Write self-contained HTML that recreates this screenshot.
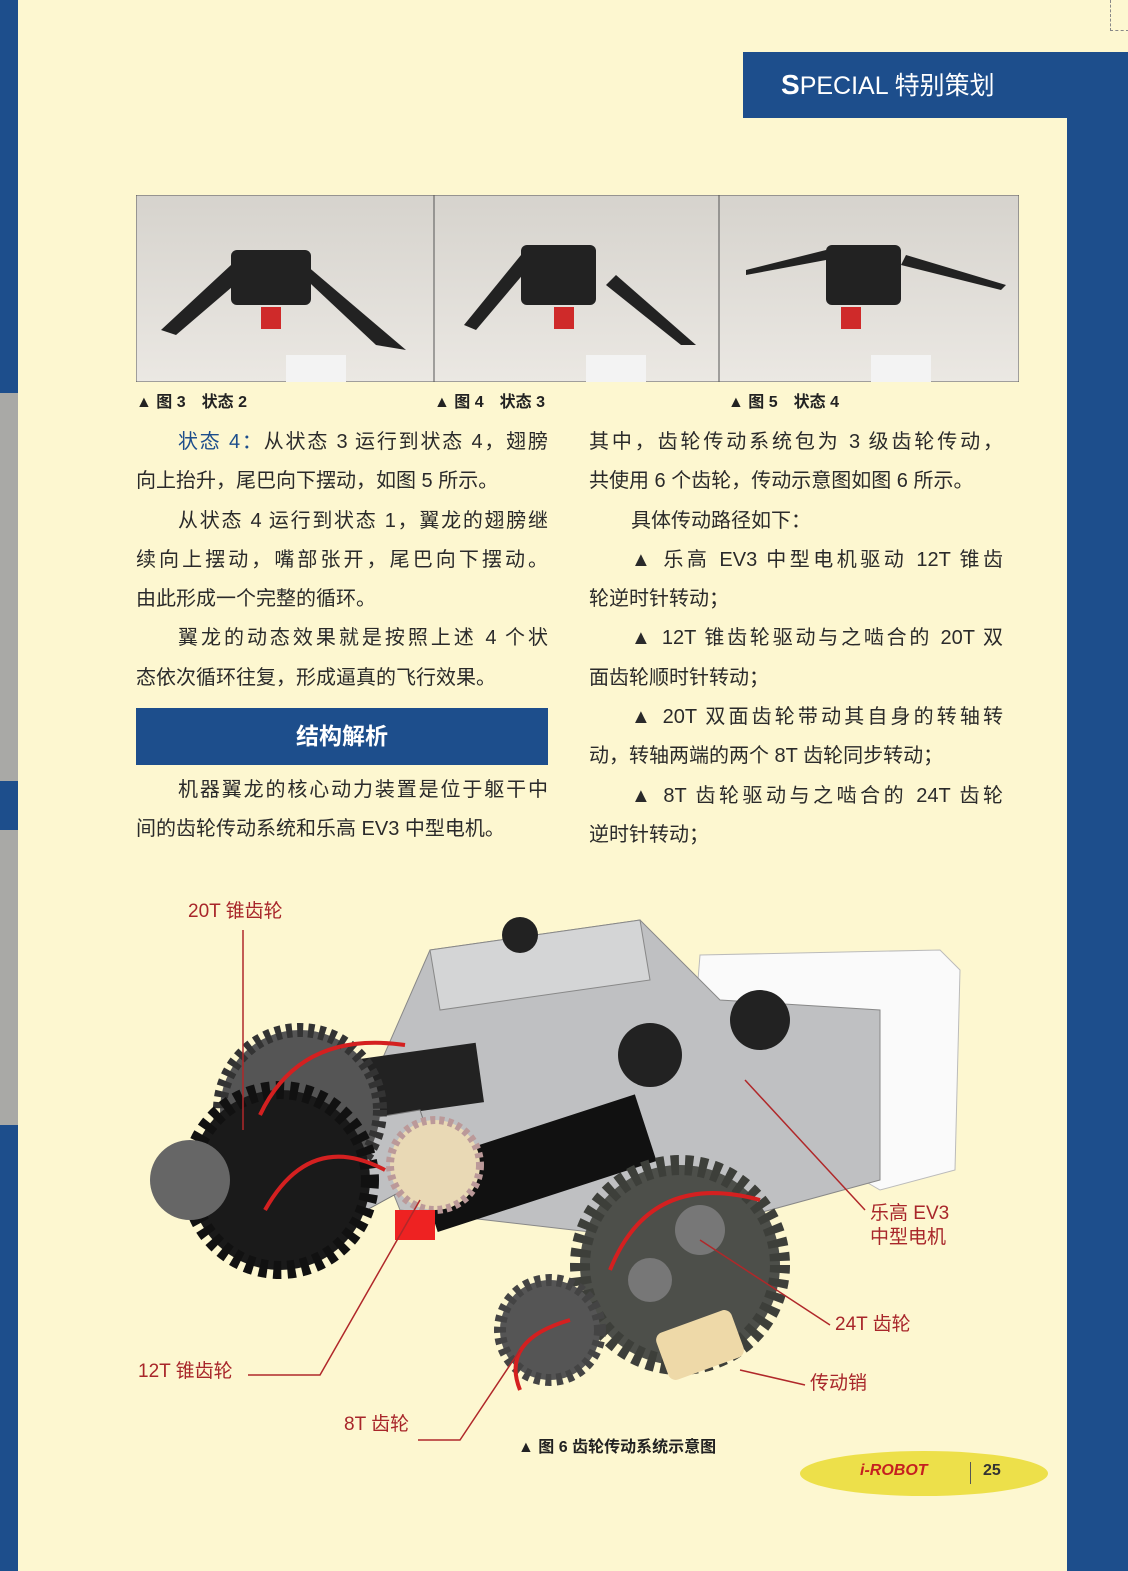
<!DOCTYPE html>
<html><head><meta charset="utf-8"><style>
body{margin:0;width:1128px;height:1571px;background:#fdf7d0;position:relative;overflow:hidden;font-family:"Liberation Sans","Noto Sans CJK SC",sans-serif;color:#2a2a2a}
.a{position:absolute}
.t{font-size:20px;line-height:39.3px}
.t div{white-space:nowrap;text-align:justify;text-align-last:justify}
.t div.e{text-align-last:left}
.t div.i{padding-left:42px}
.cap{font-size:16px;font-weight:bold;color:#222}
.lab{font-size:19px;color:#a8262a;position:absolute;line-height:24px}
</style></head><body>
<div class="a" style="left:0;top:0;width:18px;height:1571px;background:#1d4e8c"></div>
<div class="a" style="left:0;top:393px;width:18px;height:388px;background:#a9a9a6"></div>
<div class="a" style="left:0;top:830px;width:18px;height:295px;background:#a9a9a6"></div>
<div class="a" style="left:1067px;top:52px;width:61px;height:1519px;background:#1d4e8c"></div>
<div class="a" style="left:743px;top:52px;width:324px;height:66px;background:#1d4e8c;color:#fff;font-size:25px;line-height:66px;text-indent:38px"><b style="font-size:28px">S</b>PECIAL 特别策划</div>
<div class="a" style="left:1110px;top:0;width:18px;height:30px;border-left:1px dashed #888;border-bottom:1px dashed #888"></div>

<svg class="a" style="left:136px;top:195px" width="883" height="187">
<defs><linearGradient id="g" x1="0" y1="0" x2="0" y2="1"><stop offset="0" stop-color="#d6d3cd"/><stop offset="1" stop-color="#ebe8e3"/></linearGradient></defs>
<rect width="883" height="187" fill="url(#g)" stroke="#555"/>
<line x1="298" y1="0" x2="298" y2="187" stroke="#555"/><line x1="583" y1="0" x2="583" y2="187" stroke="#555"/>
<g fill="#222">
<polygon points="25,135 95,70 110,80 40,140"/><polygon points="160,75 240,150 270,155 170,70"/><rect x="95" y="55" width="80" height="55" rx="6"/>
<polygon points="328,130 385,60 395,70 340,135"/><polygon points="480,80 560,150 545,150 470,90"/><rect x="385" y="50" width="75" height="60" rx="6"/>
<polygon points="610,75 690,55 690,65 610,80"/><polygon points="770,60 870,90 865,95 765,70"/><rect x="690" y="50" width="75" height="60" rx="6"/>
</g>
<g fill="#cf2a2a"><rect x="125" y="112" width="20" height="22"/><rect x="418" y="112" width="20" height="22"/><rect x="705" y="112" width="20" height="22"/></g>
<g fill="#f3f3f3"><rect x="150" y="160" width="60" height="27"/><rect x="450" y="160" width="60" height="27"/><rect x="735" y="160" width="60" height="27"/></g>
</svg>
<div class="a cap" style="left:136px;top:388px">▲ 图 3　状态 2</div>
<div class="a cap" style="left:434px;top:388px">▲ 图 4　状态 3</div>
<div class="a cap" style="left:728px;top:388px">▲ 图 5　状态 4</div>

<div class="a t" style="left:136px;top:423px;width:412px">
<div class="i"><span style="color:#1d4e8c">状态 4：</span>从状态 3 运行到状态 4，翅膀</div>
<div class="e">向上抬升，尾巴向下摆动，如图 5 所示。</div>
<div class="i">从状态 4 运行到状态 1，翼龙的翅膀继</div>
<div>续向上摆动，嘴部张开，尾巴向下摆动。</div>
<div class="e">由此形成一个完整的循环。</div>
<div class="i">翼龙的动态效果就是按照上述 4 个状</div>
<div class="e">态依次循环往复，形成逼真的飞行效果。</div>
</div>
<div class="a" style="left:136px;top:708px;width:412px;height:57px;background:#1d4e8c;color:#fff;font-size:23px;font-weight:bold;line-height:57px;text-align:center">结构解析</div>
<div class="a t" style="left:136px;top:771px;width:412px">
<div class="i">机器翼龙的核心动力装置是位于躯干中</div>
<div class="e">间的齿轮传动系统和乐高 EV3 中型电机。</div>
</div>

<div class="a t" style="left:589px;top:423px;width:414px">
<div>其中，齿轮传动系统包为 3 级齿轮传动，</div>
<div class="e">共使用 6 个齿轮，传动示意图如图 6 所示。</div>
<div class="i e">具体传动路径如下：</div>
<div class="i">▲ 乐高 EV3 中型电机驱动 12T 锥齿</div>
<div class="e">轮逆时针转动；</div>
<div class="i">▲ 12T 锥齿轮驱动与之啮合的 20T 双</div>
<div class="e">面齿轮顺时针转动；</div>
<div class="i">▲ 20T 双面齿轮带动其自身的转轴转</div>
<div class="e">动，转轴两端的两个 8T 齿轮同步转动；</div>
<div class="i">▲ 8T 齿轮驱动与之啮合的 24T 齿轮</div>
<div class="e">逆时针转动；</div>
</div>

<svg class="a" style="left:0;top:880px" width="1128" height="580">
<polygon points="700,75 940,70 960,90 955,290 880,310 690,200" fill="#fafafa" stroke="#bbb"/>
<polygon points="430,70 640,40 720,120 880,130 880,300 660,360 400,330 360,230" fill="#bfc0c2" stroke="#888"/>
<polygon points="430,70 640,40 650,100 440,130" fill="#d4d5d6" stroke="#888"/>
<rect x="300" y="175" width="180" height="60" fill="#222" transform="rotate(-8 390 200)"/>
<rect x="420" y="250" width="230" height="70" fill="#111" transform="rotate(-18 530 280)"/>
<polygon points="300,250 420,230 440,290 330,350" fill="#bfc0c2" stroke="#777"/>
<circle cx="300" cy="230" r="80" fill="#555" stroke="#333" stroke-width="14" stroke-dasharray="6 5"/>
<circle cx="280" cy="300" r="90" fill="#1a1a1a" stroke="#111" stroke-width="18" stroke-dasharray="8 6"/>
<circle cx="190" cy="300" r="40" fill="#666"/>
<circle cx="435" cy="285" r="45" fill="#e9d9b5" stroke="#b99" stroke-width="8" stroke-dasharray="5 4"/>
<rect x="395" y="330" width="40" height="30" fill="#e22"/>
<circle cx="680" cy="385" r="100" fill="#4d4f4a" stroke="#3d3f3a" stroke-width="20" stroke-dasharray="8 6"/>
<circle cx="700" cy="350" r="25" fill="#777"/><circle cx="650" cy="400" r="22" fill="#777"/>
<circle cx="550" cy="450" r="50" fill="#555" stroke="#444" stroke-width="12" stroke-dasharray="6 5"/>
<rect x="660" y="440" width="80" height="50" rx="8" fill="#eed9a8" transform="rotate(-20 700 465)"/>
<circle cx="520" cy="55" r="18" fill="#222"/><circle cx="760" cy="140" r="30" fill="#222"/><circle cx="650" cy="175" r="32" fill="#222"/>
<g fill="none" stroke="#d42020" stroke-width="4">
<path d="M260,235 Q300,150 405,165"/><path d="M265,330 Q310,250 385,290"/><path d="M610,390 Q650,290 760,320"/><path d="M520,510 Q500,460 570,440"/>
</g>
<g fill="none" stroke="#b0282a" stroke-width="1.5">
<polyline points="243,50 243,250"/><polyline points="248,495 320,495 420,320"/><polyline points="418,560 460,560 520,470"/>
<polyline points="745,200 865,330"/><polyline points="700,360 830,445"/><polyline points="740,490 805,505"/>
</g>
</svg>
<div class="lab" style="left:188px;top:900px">20T 锥齿轮</div>
<div class="lab" style="left:138px;top:1360px">12T 锥齿轮</div>
<div class="lab" style="left:344px;top:1413px">8T 齿轮</div>
<div class="lab" style="left:870px;top:1202px">乐高 EV3<br>中型电机</div>
<div class="lab" style="left:835px;top:1313px">24T 齿轮</div>
<div class="lab" style="left:810px;top:1372px">传动销</div>
<div class="a cap" style="left:518px;top:1433px">▲ 图 6  齿轮传动系统示意图</div>
<div class="a" style="left:800px;top:1451px;width:248px;height:45px;border-radius:50%;background:#ede04a"></div>
<div class="a" style="left:860px;top:1462px;font-size:16px;font-weight:bold;font-style:italic;color:#c52020">i-ROBOT</div>
<div class="a" style="left:970px;top:1462px;width:1px;height:22px;background:#555"></div>
<div class="a" style="left:983px;top:1462px;font-size:16px;font-weight:bold;color:#333">25</div>
</body></html>
